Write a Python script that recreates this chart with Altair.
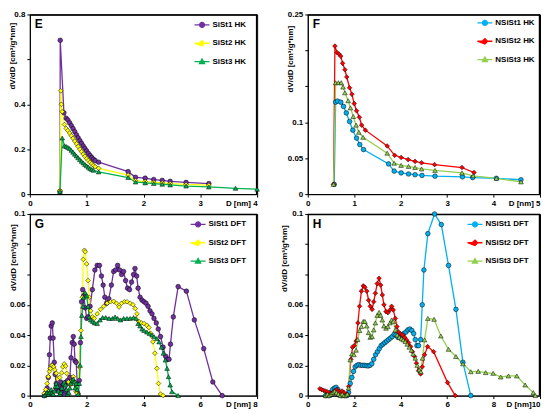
import altair as alt
import pandas as pd

# ---------------- Panel E : HK, SiSt ----------------
E_names = ["SiSt1 HK", "SiSt2 HK", "SiSt3 HK"]
E_colors = ["#7030A0", "#FFFF00", "#00B050"]
E1_x = [0.530, 0.535, 0.60, 0.64, 0.67, 0.70, 0.73, 0.76, 0.79, 0.82, 0.85, 0.88, 0.91, 0.94, 0.97, 1.00,
        1.03, 1.06, 1.09, 1.12, 1.15, 1.21, 1.73, 1.86, 2.03, 2.18, 2.33, 2.47, 2.75, 3.15]
E1_y = [0.012, 0.685, 0.362, 0.338, 0.330, 0.318, 0.305, 0.292, 0.278, 0.264, 0.251, 0.238, 0.226, 0.214,
        0.203, 0.192, 0.181, 0.172, 0.163, 0.155, 0.149, 0.142, 0.100, 0.075, 0.071, 0.065, 0.061, 0.057,
        0.052, 0.047]
E2_x = [0.530, 0.545, 0.555, 0.57, 0.61, 0.64, 0.67, 0.70, 0.73, 0.76, 0.79, 0.82, 0.85, 0.88, 0.91, 0.94,
        0.97, 1.00, 1.03, 1.06, 1.09, 1.12, 1.15, 1.21, 1.73, 1.86, 2.03, 2.18, 2.33, 2.47, 2.75, 3.15]
E2_y = [0.015, 0.460, 0.400, 0.367, 0.310, 0.292, 0.283, 0.272, 0.260, 0.248, 0.236, 0.224, 0.212, 0.200,
        0.189, 0.178, 0.168, 0.158, 0.150, 0.142, 0.135, 0.128, 0.122, 0.115, 0.085, 0.060, 0.056, 0.053,
        0.050, 0.047, 0.043, 0.040]
E3_x = [0.530, 0.57, 0.61, 0.64, 0.67, 0.70, 0.73, 0.76, 0.79, 0.82, 0.85, 0.88, 0.91, 0.94, 0.97, 1.00,
        1.03, 1.06, 1.09, 1.12, 1.21, 1.73, 1.86, 2.03, 2.18, 2.33, 2.47, 2.75, 3.15, 3.62, 4.00]
E3_y = [0.012, 0.250, 0.215, 0.212, 0.208, 0.203, 0.195, 0.187, 0.178, 0.170, 0.162, 0.154, 0.146, 0.139,
        0.132, 0.126, 0.120, 0.114, 0.110, 0.106, 0.099, 0.074, 0.054, 0.050, 0.047, 0.044, 0.041, 0.036,
        0.032, 0.026, 0.022]

# ---------------- Panel F : HK, NSiSt ----------------
F_names = ["NSiSt1 HK", "NSiSt2 HK", "NSiSt3 HK"]
F_colors = ["#00B0F0", "#FF0000", "#92D050"]
F1_x = [0.57, 0.60, 0.64, 0.71, 0.77, 0.83, 0.90, 0.97, 1.05, 1.12, 1.20, 1.74, 1.86, 2.01, 2.17, 2.31,
        2.46, 2.74, 3.33, 3.55, 4.06, 4.59]
F1_y = [0.0136, 0.128, 0.1295, 0.128, 0.122, 0.113, 0.101, 0.089, 0.078, 0.069, 0.062, 0.042, 0.032,
        0.0295, 0.028, 0.027, 0.026, 0.025, 0.024, 0.023, 0.022, 0.020]
F2_x = [0.555, 0.585, 0.63, 0.67, 0.71, 0.75, 0.80, 0.84, 0.90, 0.95, 1.00, 1.05, 1.11, 1.16, 1.24, 1.71,
        1.87, 2.01, 2.16, 2.31, 2.45, 2.73, 3.32, 3.58]
F2_y = [0.0136, 0.206, 0.197, 0.195, 0.192, 0.182, 0.173, 0.163, 0.148, 0.139, 0.126, 0.116, 0.107, 0.096,
        0.089, 0.067, 0.054, 0.051, 0.048, 0.0455, 0.0436, 0.041, 0.037, 0.030]
F3_x = [0.555, 0.60, 0.66, 0.72, 0.76, 0.80, 0.87, 0.92, 0.98, 1.04, 1.10, 1.19, 1.71, 1.86, 2.01, 2.17,
        2.31, 2.45, 2.74, 3.32, 3.56, 4.06, 4.59]
F3_y = [0.0136, 0.155, 0.155, 0.155, 0.149, 0.141, 0.130, 0.120, 0.108, 0.096, 0.086, 0.079, 0.057, 0.043,
        0.040, 0.0386, 0.037, 0.035, 0.033, 0.0295, 0.0255, 0.022, 0.017]

# ---------------- Panel G : DFT, SiSt ----------------
G_names = ["SiSt1 DFT", "SiSt2 DFT", "SiSt3 DFT"]
G_colors = ["#7030A0", "#FFFF00", "#00B050"]
G1_x = [0.51, 0.56, 0.61, 0.65, 0.69, 0.72, 0.75, 0.79, 0.82, 0.86, 0.89, 0.93, 0.97, 1.01, 1.05, 1.09,
        1.13, 1.17, 1.21, 1.25, 1.29, 1.33, 1.37, 1.41, 1.45, 1.49, 1.53, 1.56, 1.59, 1.63, 1.67, 1.70,
        1.74, 1.78, 1.82, 1.86, 1.90, 1.95, 2.00, 2.05, 2.12, 2.20, 2.29, 2.37, 2.45, 2.52, 2.58, 2.64,
        2.70, 2.78, 2.87, 2.95, 3.02, 3.09, 3.16, 3.23, 3.30, 3.37, 3.44, 3.51, 3.58, 3.65, 3.70, 3.76,
        3.81, 3.88, 3.95, 4.02, 4.09, 4.16, 4.23, 4.30, 4.37, 4.45, 4.52, 4.60, 4.69, 4.78, 4.85, 4.90,
        4.95, 5.05, 5.22, 5.51, 5.79, 6.12, 6.44, 6.77]
G1_y = [0.000, 0.002, 0.005, 0.012, 0.027, 0.038, 0.046, 0.048, 0.038, 0.022, 0.014, 0.008, 0.004, 0.003,
        0.006, 0.009, 0.005, 0.002, 0.001, 0.003, 0.009, 0.010, 0.008, 0.012, 0.025, 0.035, 0.039, 0.034,
        0.023, 0.022, 0.008, 0.001, 0.010, 0.035, 0.062, 0.070, 0.066, 0.058, 0.051, 0.052, 0.059, 0.070,
        0.083, 0.086, 0.086, 0.079, 0.073, 0.065, 0.061, 0.064, 0.073, 0.082, 0.083, 0.086, 0.083, 0.080,
        0.082, 0.076, 0.071, 0.070, 0.075, 0.080, 0.084, 0.079, 0.071, 0.065, 0.063, 0.062, 0.061, 0.059,
        0.056, 0.054, 0.051, 0.048, 0.044, 0.039, 0.032, 0.026, 0.024, 0.024, 0.034, 0.052, 0.072, 0.069,
        0.050, 0.031, 0.009, 0.000]
G2_x = [0.51, 0.56, 0.61, 0.65, 0.69, 0.72, 0.76, 0.79, 0.84, 0.88, 0.93, 0.98, 1.05, 1.12, 1.16, 1.21,
        1.26, 1.30, 1.36, 1.42, 1.48, 1.53, 1.58, 1.63, 1.67, 1.74, 1.80, 1.85, 1.88, 1.92, 1.95, 2.00,
        2.05, 2.09, 2.14, 2.20, 2.27, 2.37, 2.49, 2.60, 2.72, 2.84, 2.95, 3.05, 3.14, 3.23, 3.33, 3.42,
        3.53, 3.63, 3.71, 3.77, 3.84, 3.93, 4.02, 4.12, 4.19, 4.26, 4.33, 4.40, 4.47, 4.53, 4.60, 4.69]
G2_y = [0.0015, 0.004, 0.008, 0.0125, 0.016, 0.018, 0.020, 0.020, 0.019, 0.017, 0.0147, 0.011, 0.012,
        0.015, 0.019, 0.021, 0.0195, 0.0147, 0.009, 0.007, 0.010, 0.0125, 0.009, 0.0026, 0.0015, 0.019,
        0.043, 0.065, 0.090, 0.096, 0.095, 0.087, 0.076, 0.065, 0.056, 0.052, 0.051, 0.054, 0.057, 0.059,
        0.061, 0.062, 0.0623, 0.061, 0.0585, 0.061, 0.062, 0.062, 0.061, 0.060, 0.0575, 0.054, 0.049, 0.048,
        0.0476, 0.0465, 0.045, 0.041, 0.0355, 0.028, 0.018, 0.008, 0.001, 0.000]
G3_x = [0.51, 0.56, 0.61, 0.65, 0.69, 0.72, 0.75, 0.79, 0.82, 0.86, 0.89, 0.93, 0.97, 1.01, 1.05, 1.09,
        1.13, 1.17, 1.21, 1.25, 1.29, 1.33, 1.37, 1.41, 1.45, 1.49, 1.53, 1.56, 1.59, 1.63, 1.67, 1.70,
        1.74, 1.77, 1.80, 1.83, 1.87, 1.90, 1.95, 2.00, 2.05, 2.09, 2.14, 2.21, 2.28, 2.37, 2.47, 2.56,
        2.67, 2.79, 2.91, 3.00, 3.09, 3.19, 3.30, 3.42, 3.53, 3.65, 3.74, 3.81, 3.88, 3.95, 4.02, 4.12,
        4.21, 4.30, 4.37, 4.47, 4.55, 4.63, 4.70, 4.77, 4.83, 4.88, 4.94, 5.00, 5.22]
G3_y = [0.000, 0.001, 0.002, 0.001, 0.002, 0.003, 0.004, 0.002, 0.001, 0.003, 0.006, 0.008, 0.006, 0.003,
        0.001, 0.002, 0.005, 0.008, 0.009, 0.007, 0.004, 0.001, 0.002, 0.005, 0.008, 0.010, 0.011, 0.009,
        0.005, 0.008, 0.004, 0.001, 0.008, 0.020, 0.039, 0.053, 0.059, 0.065, 0.068, 0.066, 0.059, 0.052,
        0.050, 0.049, 0.048, 0.0476, 0.050, 0.0516, 0.0516, 0.051, 0.051, 0.052, 0.051, 0.050, 0.051, 0.051,
        0.051, 0.0516, 0.051, 0.0476, 0.046, 0.044, 0.043, 0.042, 0.041, 0.040, 0.039, 0.0377, 0.0355,
        0.032, 0.028, 0.0235, 0.018, 0.0125, 0.007, 0.0026, 0.000]

# ---------------- Panel H : DFT, NSiSt ----------------
H_names = ["NSiSt1 DFT", "NSiSt2 DFT", "NSiSt3 DFT"]
H_colors = ["#00B0F0", "#FF0000", "#92D050"]
H1_x = [0.77, 0.85, 0.92, 1.00, 1.07, 1.15, 1.22, 1.30, 1.37, 1.45, 1.52, 1.60, 1.68, 1.76, 1.83, 1.90,
        1.97, 2.04, 2.12, 2.20, 2.28, 2.36, 2.44, 2.52, 2.60, 2.68, 2.76, 2.84, 2.92, 3.00, 3.08, 3.16,
        3.24, 3.32, 3.40, 3.48, 3.56, 3.64, 3.72, 3.80, 3.88, 3.97, 4.05, 4.14, 4.23, 4.31, 4.40, 4.48,
        4.56, 4.63, 4.70, 4.77, 4.86, 4.93, 5.00, 5.17, 5.46, 5.75, 6.06, 6.38, 6.68, 7.02]
H1_y = [0.000, 0.001, 0.000, 0.002, 0.004, 0.005, 0.0055, 0.004, 0.002, 0.000, 0.001, 0.000, 0.000, 0.002,
        0.008, 0.012, 0.016, 0.019, 0.020, 0.0205, 0.020, 0.020, 0.020, 0.0198, 0.0196, 0.020, 0.021, 0.024,
        0.027, 0.029, 0.031, 0.033, 0.034, 0.035, 0.036, 0.037, 0.038, 0.039, 0.0405, 0.040, 0.0385, 0.039,
        0.040, 0.041, 0.042, 0.0434, 0.044, 0.043, 0.041, 0.037, 0.033, 0.033, 0.037, 0.060, 0.083, 0.107,
        0.120, 0.113, 0.086, 0.057, 0.022, 0.000]
H2_x = [0.52, 0.60, 0.68, 0.76, 0.84, 0.92, 1.00, 1.08, 1.16, 1.24, 1.32, 1.40, 1.48, 1.56, 1.64, 1.70,
        1.76, 1.86, 1.93, 2.00, 2.08, 2.16, 2.23, 2.31, 2.39, 2.46, 2.54, 2.62, 2.69, 2.77, 2.84, 2.91,
        2.99, 3.07, 3.14, 3.21, 3.28, 3.37, 3.45, 3.54, 3.61, 3.68, 3.77, 3.84, 3.91, 4.00, 4.08, 4.17,
        4.25, 4.34, 4.43, 4.51, 4.60, 4.68, 4.77, 4.86, 4.93, 5.03, 5.16, 5.42, 6.02, 6.35]
H2_y = [0.0045, 0.004, 0.0035, 0.003, 0.0025, 0.002, 0.0015, 0.002, 0.003, 0.004, 0.003, 0.002, 0.003,
        0.002, 0.000, 0.001, 0.006, 0.024, 0.032, 0.033, 0.036, 0.048, 0.059, 0.069, 0.0725, 0.0716, 0.069,
        0.063, 0.059, 0.057, 0.062, 0.0676, 0.074, 0.0775, 0.073, 0.0665, 0.060, 0.0555, 0.0548, 0.0566,
        0.059, 0.0566, 0.051, 0.0456, 0.042, 0.0407, 0.040, 0.0385, 0.0368, 0.035, 0.0324, 0.029, 0.0258,
        0.0214, 0.0165, 0.0143, 0.019, 0.027, 0.0324, 0.029, 0.0086, 0.000]
H3_x = [0.77, 0.85, 0.92, 1.00, 1.08, 1.16, 1.24, 1.32, 1.40, 1.48, 1.56, 1.64, 1.70, 1.76, 1.83, 1.90,
        1.99, 2.08, 2.15, 2.23, 2.31, 2.39, 2.46, 2.54, 2.62, 2.69, 2.77, 2.84, 2.91, 2.99, 3.07, 3.14,
        3.21, 3.28, 3.37, 3.45, 3.54, 3.61, 3.68, 3.77, 3.85, 3.94, 4.03, 4.11, 4.20, 4.28, 4.37, 4.46,
        4.54, 4.63, 4.71, 4.80, 4.87, 4.94, 5.03, 5.17, 5.44, 5.73, 6.06, 6.38, 6.68, 7.02, 7.34, 7.66,
        7.98, 8.31, 8.64, 9.00, 9.36, 9.71, 9.80]
H3_y = [0.000, 0.001, 0.000, 0.001, 0.002, 0.003, 0.002, 0.001, 0.000, 0.001, 0.000, 0.000, 0.001, 0.005,
        0.0236, 0.0275, 0.027, 0.030, 0.037, 0.043, 0.0456, 0.049, 0.049, 0.046, 0.0416, 0.0385, 0.039,
        0.0434, 0.048, 0.053, 0.055, 0.053, 0.050, 0.046, 0.0445, 0.0456, 0.048, 0.050, 0.049, 0.0434,
        0.040, 0.0385, 0.0376, 0.0368, 0.0357, 0.034, 0.032, 0.030, 0.0275, 0.0247, 0.020, 0.017, 0.0158,
        0.0247, 0.0368, 0.051, 0.0504, 0.0394, 0.0306, 0.0258, 0.021, 0.0158, 0.016, 0.0152, 0.0147,
        0.0123, 0.013, 0.013, 0.007, 0.002, 0.000]

Y_TITLE = "dV/dD [cm³/g*nm]"
FONT = "Liberation Sans"

CIRCLE_PATH = "M-1,0H-0.33A0.33,0.33,0,1,1,0.33,0A0.33,0.33,0,1,1,-0.33,0ZM0.33,0H1"
DIAMOND_PATH = "M-1,0H-0.36L0,-0.36L0.36,0L0,0.36ZM0.36,0H1"
TRIANGLE_PATH = "M-1,0H1M-0.34,0.26L0,-0.34L0.34,0.26Z"


def make_df(names, series):
    rows = []
    for name, (xs, ys) in zip(names, series):
        for i, (xv, yv) in enumerate(zip(xs, ys)):
            rows.append({"series": name, "idx": i, "x": xv, "y": yv})
    return pd.DataFrame(rows)


def panel(names, colors, series, letter, xmax, xstep, last_label, ymax, ystep_vals, hidden,
          width, height, leg_x, leg_y, title_x, title_y):
    df = make_df(names, series)
    xticks = list(range(0, xmax + 1, xstep))
    hid = ",".join(str(h) for h in hidden)
    xscale = alt.Scale(domain=[0, xmax], nice=False, zero=True)
    yscale = alt.Scale(domain=[0, ymax], nice=False, zero=True)
    x_axis = alt.Axis(
        values=xticks, title=None, format="~g", labelFlush=False, grid=False,
        tickSize=3, labelPadding=2,
        labelExpr=f"datum.value == {xmax} ? '{last_label}' : datum.label",
        labelAlign={"condition": {"test": f"datum.value == {xmax}", "value": "right"},
                    "value": "center"},
    )
    y_axis = alt.Axis(
        values=ystep_vals, format="~g", grid=False, tickSize=3, labelPadding=2,
        labelExpr=f"indexof([{hid}], datum.value) >= 0 ? '' : datum.label",
        title=Y_TITLE, titleX=title_x, titleY=title_y, titleAlign="right", titleAngle=270,
    )

    chart = alt.Chart(df)
    frame_top = alt.Chart(pd.DataFrame({"f": [0]})).mark_rule(color="black", strokeWidth=1.5).encode(
        x=alt.value(0), x2=alt.value(width), y=alt.value(0.5))
    frame_right = alt.Chart(pd.DataFrame({"f": [0]})).mark_rule(color="black", strokeWidth=1.5).encode(
        x=alt.value(width - 0.5), y=alt.value(0), y2=alt.value(height))
    lines = chart.mark_line(strokeWidth=1.3).encode(
        x=alt.X("x:Q", scale=xscale, axis=x_axis),
        y=alt.Y("y:Q", scale=yscale, axis=y_axis),
        color=alt.Color("series:N", scale=alt.Scale(domain=names, range=colors), legend=None),
        detail="series:N",
        order="idx:Q",
    )
    points = chart.mark_point(filled=True, stroke="black", strokeWidth=0.5, size=22, opacity=1).encode(
        x=alt.X("x:Q", scale=xscale, axis=x_axis),
        y=alt.Y("y:Q", scale=yscale, axis=y_axis),
        fill=alt.Fill("series:N", scale=alt.Scale(domain=names, range=colors), legend=None),
        shape=alt.Shape("series:N",
                        scale=alt.Scale(domain=names, range=["circle", "diamond", "triangle-up"]),
                        legend=None),
    )
    leg = alt.Legend(
        title=None, orient="none", legendX=leg_x, legendY=leg_y, symbolSize=225,
        symbolOpacity=1, symbolStrokeWidth=1.3, rowPadding=4.5, labelOffset=2,
        labelFont=FONT, labelFontSize=8, labelFontWeight="bold", labelColor="black",
    )
    carrier = chart.mark_point(filled=True, opacity=0, strokeWidth=1.3).encode(
        x=alt.X("x:Q", scale=xscale, axis=x_axis),
        y=alt.Y("y:Q", scale=yscale, axis=y_axis),
        fill=alt.Fill("series:N", scale=alt.Scale(domain=names, range=colors), legend=leg),
        stroke=alt.Stroke("series:N", scale=alt.Scale(domain=names, range=colors), legend=leg),
        shape=alt.Shape("series:N",
                        scale=alt.Scale(domain=names, range=[CIRCLE_PATH, DIAMOND_PATH, TRIANGLE_PATH]),
                        legend=leg),
    )
    label = alt.Chart(pd.DataFrame({"t": [letter]})).mark_text(
        font=FONT, fontSize=12, fontWeight="bold", color="black", align="left", baseline="alphabetic"
    ).encode(text="t:N", x=alt.value(5), y=alt.value(14))
    return (
        alt.layer(frame_top, frame_right, lines, points, carrier, label)
        .resolve_scale(color="independent", fill="independent", shape="independent",
                       stroke="independent")
        .properties(width=width, height=height)
    )


E = panel(E_names, E_colors, [(E1_x, E1_y), (E2_x, E2_y), (E3_x, E3_y)], "E",
          4, 1, "D [nm] 4", 0.8, [0, 0.2, 0.4, 0.6, 0.8], [0.6],
          229, 181, 165, 2, -13, 8)
F = panel(F_names, F_colors, [(F1_x, F1_y), (F2_x, F2_y), (F3_x, F3_y)], "F",
          5, 1, "D [nm] 5", 0.25, [0, 0.05, 0.1, 0.15, 0.2, 0.25], [0.15, 0.2],
          234, 181, 170, 0, -13, 11)
G = panel(G_names, G_colors, [(G1_x, G1_y), (G2_x, G2_y), (G3_x, G3_y)], "G",
          8, 2, "D [nm] 8", 0.12, [0, 0.02, 0.04, 0.06, 0.08, 0.1, 0.12], [0.08, 0.1],
          229, 183, 161, 2, -12, 10)
H = panel(H_names, H_colors, [(H1_x, H1_y), (H2_x, H2_y), (H3_x, H3_y)], "H",
          10, 2, "D [nm]10", 0.12, [0, 0.02, 0.04, 0.06, 0.08, 0.1, 0.12], [0.08, 0.1],
          234, 183, 160, 2, -19, 11)

chart = (
    alt.concat(E, F, G, H, columns=2, spacing={"row": 20, "column": 51}, bounds="flush", align="each")
    .resolve_scale(color="independent", fill="independent", shape="independent", stroke="independent",
                   x="independent", y="independent")
    .properties(padding={"left": 0, "top": 0, "right": 0, "bottom": 0})
    .configure_view(stroke="black", strokeWidth=1)
    .configure_axis(
        domainColor="black", domainWidth=1, tickColor="black", tickWidth=1,
        labelColor="black", titleColor="black", labelFont=FONT, titleFont=FONT,
        labelFontSize=8, titleFontSize=8, labelFontWeight="bold", titleFontWeight="bold",
    )
    .configure_legend(labelFont=FONT, labelFontSize=8, labelFontWeight="bold", labelColor="black")
)

chart.save("out.html", embed_options={"renderer": "svg", "actions": False})
